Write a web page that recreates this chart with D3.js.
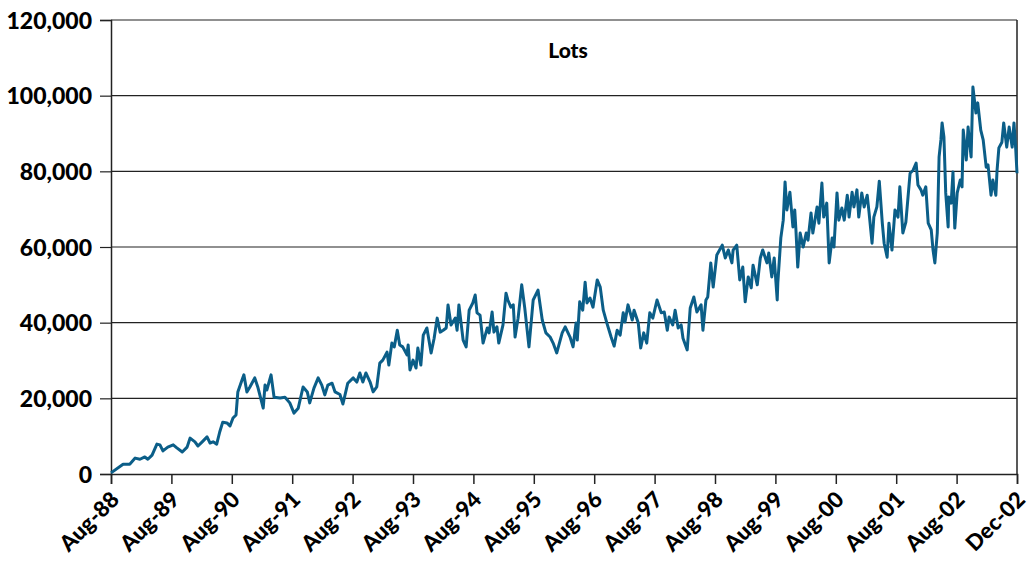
<!DOCTYPE html>
<html>
<head>
<meta charset="utf-8">
<script src="https://cdn.jsdelivr.net/npm/d3@7"></script>
<style>
  html, body { margin: 0; padding: 0; background: #fff; }
  svg { display: block; }
  text { font-family: Lato, "Open Sans", sans-serif; font-weight: 900; fill: #000; }
</style>
</head>
<body>
<svg id="chart" width="1032" height="563"></svg>
<script>
// Axis labels: one per yearly tick plus the final month
const periodLabels = ["Aug-88","Aug-89","Aug-90","Aug-91","Aug-92","Aug-93","Aug-94","Aug-95",
  "Aug-96","Aug-97","Aug-98","Aug-99","Aug-00","Aug-01","Aug-02","Dec-02"];
const lotTicks = [0, 20000, 40000, 60000, 80000, 100000, 120000];
const chartTitle = "Lots";

// Position of each observation along the axis (in tick intervals) and open lots
const obsPos = [
  0, 0.20, 0.31, 0.40, 0.48, 0.56, 0.61, 0.68, 0.76, 0.81,
  0.86, 0.94, 1.03, 1.09, 1.18, 1.26, 1.31, 1.39, 1.44, 1.51,
  1.59, 1.64, 1.69, 1.75, 1.80, 1.85, 1.92, 1.97, 2.02, 2.07,
  2.10, 2.15, 2.20, 2.25, 2.30, 2.38, 2.43, 2.52, 2.55, 2.58,
  2.65, 2.70, 2.80, 2.88, 2.96, 3.03, 3.10, 3.18, 3.25, 3.29,
  3.36, 3.43, 3.49, 3.54, 3.59, 3.66, 3.71, 3.79, 3.84, 3.92,
  4.01, 4.07, 4.12, 4.17, 4.22, 4.29, 4.34, 4.40, 4.45, 4.50,
  4.57, 4.60, 4.65, 4.69, 4.74, 4.78, 4.83, 4.90, 4.92, 4.95,
  5.00, 5.05, 5.08, 5.13, 5.17, 5.23, 5.30, 5.35, 5.40, 5.45,
  5.50, 5.55, 5.58, 5.63, 5.70, 5.73, 5.76, 5.83, 5.88, 5.93,
  5.99, 6.03, 6.06, 6.11, 6.16, 6.23, 6.26, 6.31, 6.34, 6.39,
  6.42, 6.49, 6.54, 6.57, 6.62, 6.66, 6.69, 6.74, 6.80, 6.85,
  6.92, 6.99, 7.07, 7.14, 7.20, 7.27, 7.32, 7.38, 7.47, 7.52,
  7.60, 7.65, 7.70, 7.72, 7.76, 7.81, 7.85, 7.88, 7.93, 7.98,
  8.05, 8.10, 8.15, 8.21, 8.28, 8.33, 8.38, 8.43, 8.48, 8.51,
  8.56, 8.63, 8.66, 8.73, 8.77, 8.82, 8.87, 8.92, 8.97, 9.04,
  9.11, 9.16, 9.21, 9.24, 9.30, 9.34, 9.39, 9.44, 9.47, 9.54,
  9.59, 9.65, 9.70, 9.77, 9.80, 9.85, 9.88, 9.93, 9.97, 10.03,
  10.12, 10.17, 10.22, 10.28, 10.30, 10.36, 10.41, 10.46, 10.50, 10.55,
  10.60, 10.63, 10.70, 10.75, 10.79, 10.86, 10.89, 10.94, 10.98, 11.03,
  11.04, 11.09, 11.13, 11.16, 11.19, 11.24, 11.29, 11.32, 11.34, 11.37,
  11.41, 11.46, 11.51, 11.54, 11.59, 11.62, 11.69, 11.72, 11.77, 11.80,
  11.85, 11.89, 11.94, 11.97, 12.02, 12.05, 12.10, 12.14, 12.19, 12.22,
  12.27, 12.30, 12.35, 12.38, 12.43, 12.47, 12.52, 12.55, 12.60, 12.63,
  12.68, 12.72, 12.77, 12.80, 12.85, 12.88, 12.93, 12.98, 13.03, 13.06,
  13.11, 13.16, 13.23, 13.28, 13.33, 13.36, 13.41, 13.44, 13.49, 13.53,
  13.58, 13.61, 13.64, 13.68, 13.71, 13.74, 13.76, 13.79, 13.82, 13.86,
  13.87, 13.91, 13.94, 13.97, 14.01, 14.06, 14.09, 14.11, 14.16, 14.19,
  14.24, 14.27, 14.32, 14.35, 14.40, 14.44, 14.49, 14.52, 14.57, 14.60,
  14.65, 14.67, 14.70, 14.75, 14.78, 14.83, 14.87, 14.92, 14.95, 14.98,
  15.00
];
const obsLots = [
  300, 2600, 2600, 4200, 3900, 4500, 3900, 5000, 7900, 7700,
  6100, 7100, 7700, 6900, 5800, 7100, 9500, 8500, 7400, 8500,
  9800, 8200, 8500, 7900, 11100, 13700, 13500, 12700, 14800, 15600,
  21700, 24000, 26200, 21700, 23000, 25400, 23000, 17400, 23500, 22200,
  26200, 20300, 20100, 20300, 18800, 16100, 17400, 23000, 21700, 18800,
  22700, 25400, 23500, 20900, 23500, 24000, 21700, 21000, 18500, 24000,
  25400, 24300, 26700, 24300, 26700, 24300, 21700, 23000, 29300, 30100,
  32200, 28800, 34600, 33600, 38000, 34100, 33600, 31500, 34100, 27500,
  30100, 28000, 33300, 28800, 36700, 38600, 32000, 35900, 41200, 37500,
  38000, 38600, 44700, 39400, 41200, 38000, 44700, 35400, 33600, 43300,
  45200, 47300, 42600, 42000, 34600, 38600, 37300, 42800, 37500, 38900,
  34600, 39400, 47800, 46000, 44100, 44700, 36200, 41200, 50000, 43900,
  33600, 46000, 48600, 40700, 37300, 36200, 34600, 32000, 37300, 38900,
  36200, 33600, 39900, 35400, 45500, 43300, 50700, 45200, 46500, 44100,
  51300, 49400, 43300, 39900, 36200, 33800, 38000, 36700, 42600, 40200,
  44700, 40700, 43300, 39900, 33300, 37300, 34600, 42600, 41200, 46000,
  42600, 42800, 38000, 41500, 39400, 43300, 38600, 39400, 35900, 32800,
  43900, 46800, 42800, 44700, 38000, 46000, 46800, 55800, 49400, 57900,
  60500, 57100, 59200, 55800, 59200, 60500, 51300, 54700, 45500, 52100,
  49200, 55200, 50000, 57100, 59200, 55800, 58400, 52100, 57100, 46000,
  50500, 62400, 67100, 77200, 69800, 74500, 65300, 69800, 64500, 54700,
  63700, 60000, 63700, 61800, 69000, 63700, 70600, 66300, 76900, 67900,
  71600, 55800, 62400, 60000, 74300, 67100, 70300, 67100, 73700, 67900,
  74500, 70600, 75100, 67900, 74300, 70600, 73700, 69200, 61000, 67900,
  70600, 77400, 66300, 61000, 57300, 66300, 59200, 69800, 67900, 75900,
  63700, 66600, 79500, 80300, 82200, 76400, 75100, 73700, 75900, 66300,
  64500, 59200, 55800, 63700, 83800, 88300, 92800, 89100, 74300, 65300,
  73200, 71600, 79800, 65000, 74300, 77700, 75900, 90900, 83000, 91700,
  83800, 102300, 95400, 98100, 90900, 88300, 81100, 81700, 73700, 77700,
  73700, 80300, 86200, 87700, 92800, 86400, 91700, 86400, 92800, 85600,
  79500
];

const svg = d3.select("#chart");
const margin = { left: 111, right: 1017, top: 20, bottom: 474 };

const x = d3.scaleLinear().domain([0, periodLabels.length - 1]).range([margin.left, margin.right]);
const y = d3.scaleLinear().domain([0, 120000]).range([margin.bottom, margin.top]);

// Horizontal gridlines
svg.append("g")
  .selectAll("line")
  .data(lotTicks.filter(d => d > 0))
  .join("line")
  .attr("x1", margin.left).attr("x2", margin.right)
  .attr("y1", d => y(d)).attr("y2", d => y(d))
  .attr("stroke", "#222").attr("stroke-width", 1.2);

// Right frame edge
svg.append("line")
  .attr("x1", margin.right).attr("x2", margin.right)
  .attr("y1", margin.top).attr("y2", margin.bottom)
  .attr("stroke", "#222").attr("stroke-width", 1.5);

// Y axis
const yAxis = svg.append("g")
  .attr("transform", `translate(${margin.left},0)`)
  .call(d3.axisLeft(y).tickValues(lotTicks).tickSize(11).tickPadding(8).tickFormat(d3.format(",")));
yAxis.select(".domain").attr("stroke", "#222").attr("stroke-width", 1.5);
yAxis.selectAll(".tick line").attr("stroke", "#222").attr("stroke-width", 1.2);
yAxis.selectAll(".tick text").style("font-size", "23px").attr("dy", "0.36em");

// X axis
const xAxis = svg.append("g")
  .attr("transform", `translate(0,${margin.bottom})`)
  .call(d3.axisBottom(x).tickValues(d3.range(periodLabels.length)).tickSize(10)
    .tickFormat(i => periodLabels[i]));
xAxis.select(".domain").attr("stroke", "#222").attr("stroke-width", 1.5);
xAxis.selectAll(".tick line").attr("stroke", "#222").attr("stroke-width", 1.5);
xAxis.selectAll(".tick text")
  .style("font-size", "22px")
  .attr("text-anchor", "end")
  .attr("x", 0).attr("y", 0).attr("dy", 0)
  .attr("transform", "translate(9,27) rotate(-45)");

// Series line
const line = d3.line()
  .x((d, i) => x(obsPos[i]))
  .y(d => y(d));
svg.append("path")
  .datum(obsLots)
  .attr("fill", "none")
  .attr("stroke", "#0b5e88")
  .attr("stroke-width", 3)
  .attr("stroke-linejoin", "round")
  .attr("d", line);

// Title
svg.append("text")
  .attr("x", 568).attr("y", 58)
  .attr("text-anchor", "middle")
  .style("font-size", "21px")
  .text(chartTitle);
</script>
</body>
</html>
